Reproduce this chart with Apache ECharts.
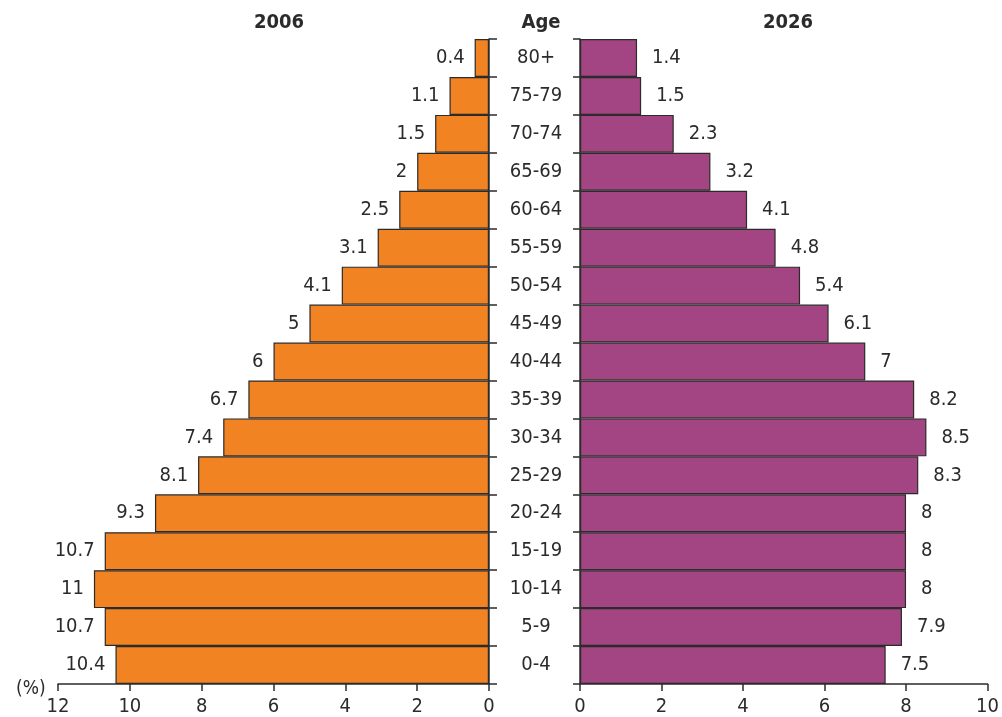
<!DOCTYPE html>
<html>
<head>
<meta charset="utf-8">
<script src="https://cdn.jsdelivr.net/npm/echarts@6/dist/echarts.min.js"></script>
<style>
  html, body { margin: 0; padding: 0; background: #fff; }
  #chart { width: 1002px; height: 717px; }
</style>
</head>
<body>
<div id="chart"></div>
<script>
// Age groups, bottom to top
const ageGroups = ['0-4', '5-9', '10-14', '15-19', '20-24', '25-29', '30-34', '35-39',
  '40-44', '45-49', '50-54', '55-59', '60-64', '65-69', '70-74', '75-79', '80+'];
// Share of population (%) per age group
const share2006 = [10.4, 10.7, 11, 10.7, 9.3, 8.1, 7.4, 6.7, 6, 5, 4.1, 3.1, 2.5, 2, 1.5, 1.1, 0.4];
const share2026 = [7.5, 7.9, 8, 8, 8, 8.3, 8.5, 8.2, 7, 6.1, 5.4, 4.8, 4.1, 3.2, 2.3, 1.5, 1.4];

const FONT = '"DejaVu Sans Condensed", "Liberation Sans Narrow", sans-serif';
const INK = '#2b2b2b';
const FS = 20;
const axisLine = { show: true, lineStyle: { color: INK, width: 1.5 } };

const chart = echarts.init(document.getElementById('chart'));
chart.setOption({
  animation: false,
  textStyle: { fontFamily: FONT },
  title: [
    { text: '2006', left: 274, top: 8, textAlign: 'center',
      textStyle: { fontFamily: FONT, fontSize: 20, fontWeight: 'bold', color: INK } },
    { text: 'Age', left: 536, top: 8, textAlign: 'center',
      textStyle: { fontFamily: FONT, fontSize: 20, fontWeight: 'bold', color: INK } },
    { text: '2026', left: 783, top: 8, textAlign: 'center',
      textStyle: { fontFamily: FONT, fontSize: 20, fontWeight: 'bold', color: INK } },
    { text: '(%)', left: 11, top: 675,
      textStyle: { fontFamily: FONT, fontSize: 19, fontWeight: 'normal', color: INK } }
  ],
  grid: [
    { left: 58, right: 513, top: 39, bottom: 32 },
    { left: 580, right: 12, top: 39, bottom: 32 }
  ],
  xAxis: [
    { gridIndex: 0, type: 'value', min: 0, max: 12, interval: 2, inverse: true,
      axisLine, axisTick: { show: true, length: 7, lineStyle: { color: INK, width: 1.5 } },
      splitLine: { show: false },
      axisLabel: { fontFamily: FONT, fontSize: FS, color: INK, margin: 13 } },
    { gridIndex: 1, type: 'value', min: 0, max: 10, interval: 2,
      axisLine, axisTick: { show: true, length: 7, lineStyle: { color: INK, width: 1.5 } },
      splitLine: { show: false },
      axisLabel: { fontFamily: FONT, fontSize: FS, color: INK, margin: 13 } }
  ],
  yAxis: [
    { gridIndex: 0, type: 'category', data: ageGroups, position: 'right',
      axisLine, axisTick: { show: true, length: 8, lineStyle: { color: INK, width: 1.5 } },
      axisLabel: { show: false } },
    { gridIndex: 1, type: 'category', data: ageGroups, position: 'left',
      axisLine, axisTick: { show: true, length: 7, lineStyle: { color: INK, width: 1.5 } },
      axisLabel: { fontFamily: FONT, fontSize: FS, color: INK, margin: 44, align: 'center' } }
  ],
  series: [
    { type: 'bar', xAxisIndex: 0, yAxisIndex: 0, data: share2006,
      barWidth: '100%', barCategoryGap: 0,
      itemStyle: { color: '#f28322', borderColor: INK, borderWidth: 1.2 },
      label: { show: true, position: 'left', distance: 10,
        fontFamily: FONT, fontSize: FS, color: INK } },
    { type: 'bar', xAxisIndex: 1, yAxisIndex: 1, data: share2026,
      barWidth: '100%', barCategoryGap: 0,
      itemStyle: { color: '#a34582', borderColor: INK, borderWidth: 1.2 },
      label: { show: true, position: 'right', distance: 15,
        fontFamily: FONT, fontSize: FS, color: INK } }
  ]
});
</script>
</body>
</html>
